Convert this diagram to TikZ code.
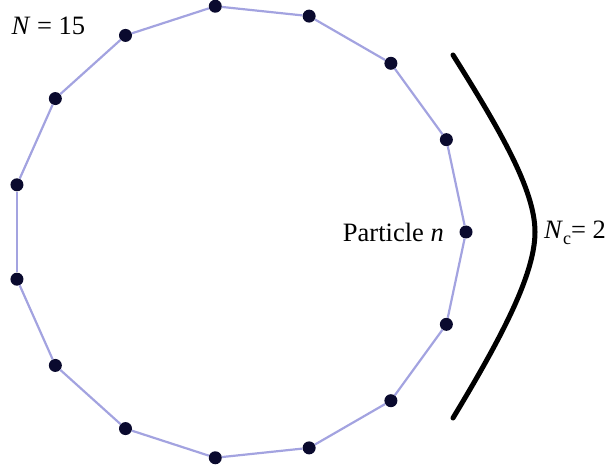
\documentclass[tikz,border=0pt]{standalone}
\usepackage{fontspec}
\setmainfont{Liberation Serif}
\usepackage{tikz}
\usetikzlibrary{positioning}
\definecolor{ringblue}{HTML}{A3A3E0}
\definecolor{dotnavy}{HTML}{0A0A2E}

\begin{document}
\begin{tikzpicture}[
  x=1pt, y=1pt,
  font=\fontsize{26.5}{30}\selectfont,
  particle/.style={circle, fill=dotnavy, inner sep=0pt, minimum size=13pt},
  bond/.style={draw=ringblue, line width=2.2pt},
  cutoff/.style={draw=black, line width=5pt, line cap=round}
]
\useasboundingbox (0,0) rectangle (608,-465);

% ---- Ring of particles ----
\foreach \i in {0,...,14}
  \node[particle] (p\i) at ({239+227*cos(24*\i)}, {-232+227*sin(24*\i)}) {};

\foreach \i [evaluate=\i as \j using {int(mod(\i+1,15))}] in {0,...,14}
  \draw[bond] (p\i) -- (p\j);

% ---- Labels ----
\node[anchor=west] (ntot) at (8,-26) {\textit{N} = 15};
\node[left=12pt of p0] (part) {Particle \textit{n}};

% ---- Cutoff arc ----
\draw[cutoff] (453,-55) .. controls (500,-130) and (535,-190) .. (535,-232)
  .. controls (535,-275) and (500,-340) .. (453,-418);
\node[anchor=west, inner sep=0pt] (ncut) at (544,-233)
  {\textit{N}\raisebox{-0.45ex}{\fontsize{18}{20}\selectfont c}= 2};

\end{tikzpicture}
\end{document}
